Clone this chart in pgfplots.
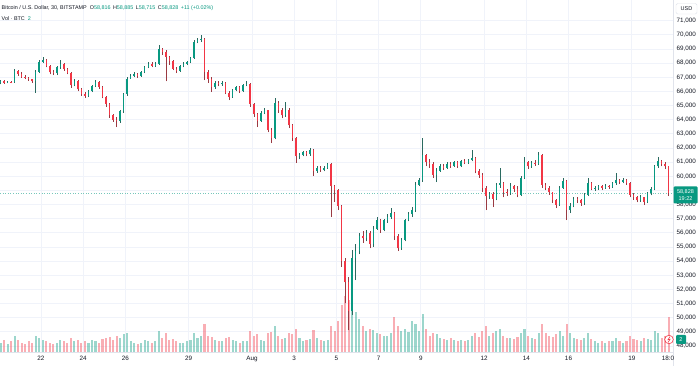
\documentclass[border=0pt]{standalone}
\usepackage{pgfplots}
\pgfplotsset{compat=1.18}
\usepackage{pgfplotstable}
\usepackage{fontspec}
\setmainfont{Liberation Sans}
\definecolor{upc}{HTML}{089981}
\definecolor{dnc}{HTML}{F23645}
\definecolor{upw}{HTML}{2A6A60}
\definecolor{dnw}{HTML}{9A3A42}
\definecolor{txt}{HTML}{131722}
\definecolor{gridc}{HTML}{F0F3FA}
\definecolor{sepc}{HTML}{E0E3EB}
\pgfplotstableread{
k o h l c v
0 66600 66800 66500 66700 8
1 66700 66780 66550 66620 10
2 66620 66750 66560 66680 7
3 66680 66760 66580 66650 9
4 66650 67550 66600 67450 14
5 67450 67500 67100 67250 10
6 67250 67350 66950 67050 8
7 67050 67150 66850 66950 7
8 66950 67050 66750 66850 9
9 66850 66900 66600 66700 8
10 66700 67500 65900 67400 14
11 67400 68250 67300 68100 12
12 68100 68420 68000 68250 10
13 68250 68300 67700 67800 9
14 67800 67850 67200 67350 8
15 67350 67500 67150 67300 7
16 67300 67800 67150 67700 8
17 67700 68220 67600 67950 10
18 67950 68000 67450 67550 9
19 67550 67650 67200 67300 8
20 67300 67350 66250 66450 12
21 66450 66900 66350 66750 9
22 66750 66800 66000 66150 10
23 66150 66250 65700 65850 8
24 65850 65950 65550 65700 9
25 65700 66100 65600 66000 8
26 66000 66450 65950 66350 10
27 66350 66800 66300 66650 9
28 66650 66700 66200 66300 8
29 66300 66350 65500 65600 11
30 65600 65700 64900 65100 12
31 65100 65150 64150 64300 13
32 64300 64400 63850 64000 10
33 64000 64200 63480 63900 14
34 63900 64700 63800 64600 12
35 64600 65900 64500 65800 15
36 65800 67000 65700 66900 16
37 66900 67250 66900 67100 9
38 67100 67350 67000 67200 8
39 67200 67300 66950 67100 7
40 67100 67450 67050 67350 8
41 67350 67800 67300 67700 10
42 67700 68050 67650 67950 9
43 67950 68050 67700 67800 8
44 67800 68050 67750 67950 9
45 67950 69280 67900 69000 18
46 69000 69100 68600 68800 12
47 68800 68900 66700 68450 16
48 68450 68500 67900 68150 10
49 68150 68200 67500 67600 11
50 67600 67700 67300 67450 9
51 67450 67900 67400 67800 8
52 67800 68050 67700 67950 8
53 67950 68150 67850 68050 9
54 68050 68450 68000 68350 10
55 68350 69600 68300 69500 16
56 69500 69800 69400 69650 12
57 69650 69990 69500 69700 14
58 69700 69750 66800 67400 24
59 67400 67500 66600 66900 14
60 66900 67000 65960 66300 13
61 66300 66750 66200 66600 10
62 66600 66700 66350 66500 9
63 66500 66750 66400 66600 9
64 66600 66650 65800 65900 12
65 65900 66000 65390 65600 13
66 65600 66200 65550 66100 10
67 66100 66400 66000 66300 9
68 66300 66350 65900 66000 8
69 66000 66550 65950 66450 9
70 66450 66700 66350 66550 9
71 66550 66600 64900 65100 18
72 65100 65200 64200 64400 14
73 64400 64500 63480 63900 15
74 63900 64600 63850 64500 10
75 64500 64830 64400 64650 9
76 64650 64700 63100 63300 16
77 63300 63400 62350 62700 17
78 62700 65530 62600 65200 22
79 65200 65300 64500 64700 14
80 64700 64800 64100 64300 11
81 64300 65250 64200 64700 12
82 64700 64800 63400 63600 16
83 63600 63700 62500 62700 15
84 62700 62800 60950 61400 20
85 61400 61650 61200 61500 12
86 61500 61800 61400 61700 9
87 61700 61800 61400 61550 10
88 61550 62000 61450 61850 11
89 61850 61900 60000 60400 19
90 60400 60700 60250 60600 12
91 60600 60750 60300 60450 10
92 60450 60700 60350 60600 9
93 60600 60950 60500 60900 10
94 60900 60950 57110 59300 22
95 59300 59400 58200 59000 18
96 59000 59100 57600 57900 26
97 57900 58000 53600 54000 40
98 54000 54200 51000 52500 48
99 52500 52900 49100 50500 44
100 50500 54800 50200 54200 38
101 54200 55200 52660 54700 34
102 54700 56000 54500 55800 28
103 55800 56100 55300 55600 22
104 55600 56200 55400 56000 18
105 56000 56100 54900 55200 20
106 55200 56500 55000 56300 19
107 56300 57100 56200 56900 16
108 56900 57000 56000 56200 15
109 56200 57000 56100 56900 14
110 56900 57300 56700 57100 14
111 57100 57750 57000 57400 16
112 57400 57500 55500 55800 30
113 55800 55900 54700 54900 22
114 54900 55600 54800 55500 18
115 55500 57000 55400 56900 20
116 56900 57500 56800 57300 17
117 57300 57800 57100 57600 26
118 57600 59600 57500 59400 24
119 59400 59900 59300 59700 18
120 59700 62700 59600 61500 32
121 61500 61600 60700 61000 20
122 61000 61200 60600 60900 14
123 60900 61000 59900 60100 16
124 60100 60600 59590 60400 15
125 60400 60900 60300 60750 12
126 60750 60900 60450 60600 11
127 60600 61000 60500 60900 10
128 60900 61000 60600 60750 12
129 60750 61100 60650 61000 10
130 61000 61050 60600 60700 9
131 60700 61150 60650 61050 10
132 61050 61200 60850 60950 9
133 60950 61250 60900 61150 10
134 61150 61850 61050 61300 14
135 61300 61350 60200 60400 16
136 60400 60500 59900 60100 13
137 60100 60200 58900 59200 18
138 59200 59300 57600 58600 22
139 58600 58900 58400 58750 14
140 58750 58850 57820 58400 16
141 58400 59500 58300 59400 18
142 59400 60580 59200 59500 20
143 59500 59600 58500 58900 14
144 58900 59100 58600 58800 12
145 58800 59500 58700 59300 12
146 59300 59400 58900 59100 11
147 59100 59300 58500 58700 13
148 58700 60000 58600 59900 16
149 59900 61360 59800 61000 20
150 61000 61100 60500 60700 14
151 60700 61100 60600 60950 12
152 60950 61150 60750 60900 11
153 60900 61710 60800 61500 16
154 61500 61550 59200 59400 24
155 59400 59550 59000 59200 16
156 59200 59300 58700 58850 14
157 58850 58900 58100 58300 13
158 58300 58400 57750 58000 15
159 58000 59300 57900 59200 18
160 59200 59870 59100 59650 14
161 59650 59700 56900 57600 24
162 57600 58100 57400 57900 16
163 57900 58500 57800 58400 12
164 58400 58500 58100 58300 11
165 58300 58400 57900 58100 10
166 58100 58800 58000 58700 12
167 58700 59870 58600 59500 16
168 59500 59600 59000 59100 11
169 59100 59300 58950 59150 9
170 59150 59400 59050 59300 8
171 59300 59400 59050 59200 9
172 59200 59450 59100 59300 8
173 59300 59400 59100 59250 9
174 59250 59600 59200 59500 9
175 59500 60220 59400 59700 12
176 59700 59800 59450 59600 9
177 59600 59850 59500 59750 8
178 59750 59800 59400 59550 9
179 59550 59600 58500 58700 14
180 58700 58800 58350 58500 11
181 58500 58600 58150 58300 10
182 58300 58650 58200 58500 9
183 58500 58550 57960 58200 12
184 58200 58900 58100 58800 11
185 58800 59250 58650 59100 10
186 59100 60800 59000 60700 18
187 60700 61360 60600 61100 16
188 61100 61150 60700 60900 12
189 60900 61000 60500 60700 14
190 60700 60750 58600 58828 30
}\btc
\pgfplotsset{tvbase/.style={at={(0pt,14pt)}, anchor=south west, scale only axis,
  width=673pt, height=352pt, xmin=20.0569, xmax=51.953},
  candle/.style={draw=none, mark=none, mark options={draw=none, fill=none}, mark size=0pt}}
\begin{document}
\begin{tikzpicture}[x=1pt,y=1pt]
\useasboundingbox (0,0) rectangle (700,366);
\fill[white] (0,0) rectangle (700,366);
% grid + ticks
\begin{axis}[tvbase, ymin=47570, ymax=72464,
  axis line style={draw=none},
  xtick={22,24,26,29,32,34,36,38,40,43,45,47,50},
  xticklabels={22,24,26,29,Aug,3,5,7,9,12,14,16,19},
  ytick={48000,49000,50000,51000,52000,53000,54000,55000,56000,57000,58000,60000,61000,62000,63000,64000,65000,66000,67000,68000,69000,70000,71000},
  extra y ticks={59000}, extra y tick labels={},
  extra y tick style={grid=major},
  yticklabel pos=right,
  scaled y ticks=false,
  tick style={draw=none}, major tick length=0pt,
  xmajorgrids, ymajorgrids,
  major grid style={draw=gridc, line width=0.8pt},
  ticklabel style={font=\fontsize{6.3}{7}\selectfont, text=txt},
  xticklabel style={yshift=-0.5pt},
  /pgf/number format/1000 sep={,},
  /pgf/number format/assume math mode=true,
]
\addplot[upc!55, dotted, line width=0.6pt] coordinates {(20.0569,58828) (51.953,58828)};
\end{axis}
% volume
\begin{axis}[tvbase, ymin=0, ymax=300, hide axis]
\addplot[ycomb, draw=upc, opacity=0.4, line width=2.1pt, mark=none,
  restrict expr to domain={\thisrow{c}-\thisrow{o}}{-0.5:1000000}]
  table[x expr=20.0833+\thisrow{k}/6, y=v]{\btc};
\addplot[ycomb, draw=dnc, opacity=0.4, line width=2.1pt, mark=none,
  restrict expr to domain={\thisrow{o}-\thisrow{c}}{0.5:1000000}]
  table[x expr=20.0833+\thisrow{k}/6, y=v]{\btc};
\end{axis}
% candles
\begin{axis}[tvbase, ymin=47570, ymax=72464, hide axis]
\addplot[candle,
  restrict expr to domain={\thisrow{c}-\thisrow{o}}{-0.5:1000000},
  error bars/.cd, y dir=plus, y explicit, error mark=none,
  error bar style={draw=upw, line width=0.5pt}]
  table[x expr=20.0833+\thisrow{k}/6, y=l, y error plus expr=\thisrow{h}-\thisrow{l}]{\btc};
\addplot[candle,
  restrict expr to domain={\thisrow{o}-\thisrow{c}}{0.5:1000000},
  error bars/.cd, y dir=plus, y explicit, error mark=none,
  error bar style={draw=dnw, line width=0.5pt}]
  table[x expr=20.0833+\thisrow{k}/6, y=l, y error plus expr=\thisrow{h}-\thisrow{l}]{\btc};
\addplot[candle,
  restrict expr to domain={\thisrow{c}-\thisrow{o}}{-0.5:1000000},
  error bars/.cd, y dir=plus, y explicit, error mark=none,
  error bar style={draw=upc, line width=1.5pt}]
  table[x expr=20.0833+\thisrow{k}/6, y=o, y error plus expr=\thisrow{c}-\thisrow{o}]{\btc};
\addplot[candle,
  restrict expr to domain={\thisrow{o}-\thisrow{c}}{0.5:1000000},
  error bars/.cd, y dir=plus, y explicit, error mark=none,
  error bar style={draw=dnc, line width=1.5pt}]
  table[x expr=20.0833+\thisrow{k}/6, y=c, y error plus expr=\thisrow{o}-\thisrow{c}]{\btc};
\end{axis}
% separators
\draw[sepc, line width=0.5pt] (673,0) -- (673,366);
\draw[sepc, line width=0.5pt] (0,14) -- (673,14);
% time label at right end
\node[font=\fontsize{6.3}{7}\selectfont, text=txt, anchor=north, inner sep=0] at (668,10.5) {18:0};
% legend text
\node[anchor=west, inner sep=0, font=\fontsize{5.4}{6}\selectfont, text=txt] at (1.5,358)
 {Bitcoin / U.S. Dollar, 30, BITSTAMP\hspace{3pt}O\textcolor{upc}{58,816}\hspace{2.5pt}H\textcolor{upc}{58,885}\hspace{2.5pt}L\textcolor{upc}{58,715}\hspace{2.5pt}C\textcolor{upc}{58,828}\hspace{2.5pt}\textcolor{upc}{+11 (+0.02\%)}};
\node[anchor=west, inner sep=0, font=\fontsize{5.4}{6}\selectfont, text=txt] at (1.5,347.5)
 {Vol · BTC\hspace{3pt}\textcolor{upc}{2}};
% USD box
\draw[sepc, rounded corners=1.5pt, fill=white] (676,352) rectangle (697,362.5);
\node[font=\fontsize{5.5}{6}\selectfont, text=txt, inner sep=0] at (686.5,357.2) {USD};
% price label
\fill[upc, rounded corners=1pt] (673.5,162.5) rectangle (697.5,179.5);
\node[font=\fontsize{5.5}{6}\selectfont, text=white, inner sep=0] at (685.5,173.6) {58,828};
\node[font=\fontsize{5.5}{6}\selectfont, text=white, inner sep=0] at (685.5,167.2) {19:22};
% volume value box
\fill[upc, rounded corners=1pt] (676,22) rectangle (686,31);
\node[font=\fontsize{5.5}{6}\selectfont, text=white, inner sep=0] at (681,26.5) {2};
% event icon
\draw[dnc, fill=white, line width=0.6pt] (669,26.5) circle (4.3);
\draw[dnc, line width=0.6pt] (670,29.5) -- (668,26.3) -- (670,26.7) -- (668,23.5);
\end{tikzpicture}
\end{document}
